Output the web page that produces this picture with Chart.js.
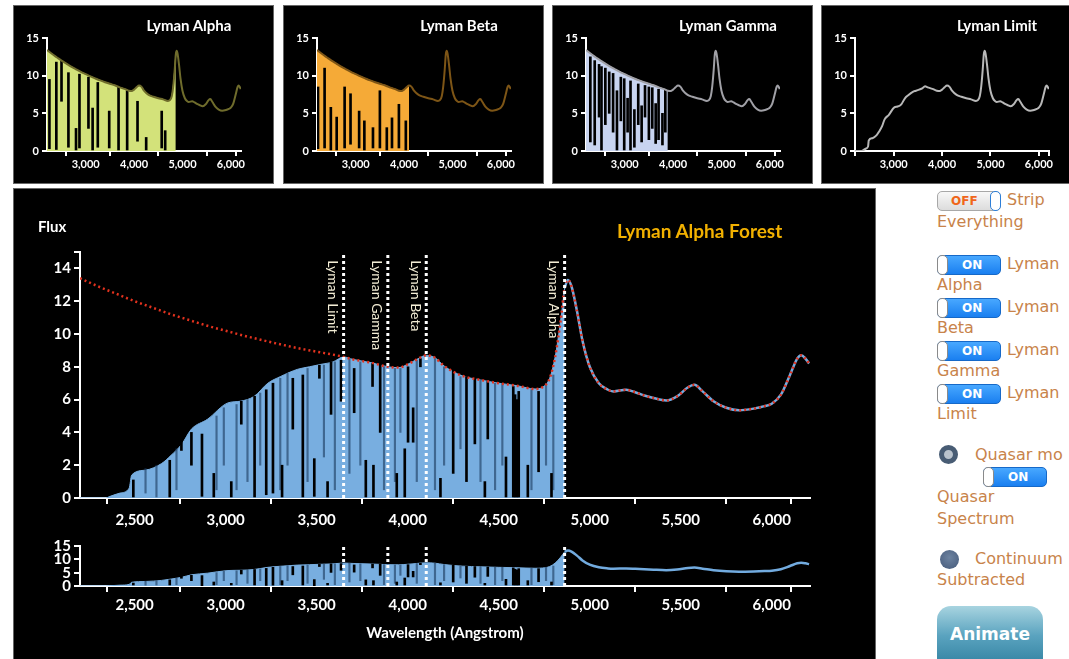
<!DOCTYPE html>
<html>
<head>
<meta charset="utf-8">
<title>Lyman Alpha Forest</title>
<script src="https://cdn.jsdelivr.net/npm/chart.js@4.4.1/dist/chart.umd.min.js"></script>
<style>
  body { margin: 0; width: 1069px; height: 659px; overflow: hidden; position: relative; background: #fff; font-family: Lato, sans-serif; }
  .panel { position: absolute; background: #000; outline: 1px solid #666; overflow: hidden; }
  .panel canvas { position: absolute; left: 0; }
  .ptitle { position: absolute; top: 10px; left: 100px; width: 150px; text-align: center; color: #fff; font: bold 15px Lato, sans-serif; }
  .ctl { position: absolute; font: 16px "DejaVu Sans", sans-serif; color: #c8834a; line-height: 20px; white-space: nowrap; }
  .sw { position: absolute; width: 62px; height: 18px; border-radius: 5px; font: bold 12px "DejaVu Sans", sans-serif; line-height: 18px; }
  .sw.on { background: linear-gradient(#48a8ff, #1a7ff0); border: 1px solid #1669c8; color: #fff; }
  .sw.off { background: linear-gradient(#f8f8f8, #dcdcdc); border: 1px solid #a8a8a8; color: #f0661a; }
  .sw .knob { position: absolute; top: -1px; width: 9px; height: 18px; background: #fff; border-radius: 5px; }
  .sw.on .knob { left: -1px; border: 1px solid #8a8a8a; }
  .sw.off .knob { right: -1px; border: 1px solid #2d7fd8; }
  .sw b { position: absolute; top: 0; }
  .sw.on b { left: 24px; }
  .sw.off b { left: 13px; }
  .radio { position: absolute; width: 19px; height: 19px; border-radius: 50%; box-sizing: border-box; }
  #animate { position: absolute; left: 937px; top: 606px; width: 106px; height: 66px; border-radius: 14px;
    background: linear-gradient(#a8d4e0, #5aa3bf 45%, #2a7b9b); color: #fff; font: bold 17px "DejaVu Sans", sans-serif;
    text-align: center; line-height: 56px; }
</style>
</head>
<body>

<div class="panel" style="left:14px; top:6px; width:259px; height:177px;">
  <canvas id="pAlpha" width="259" height="177"></canvas>
  <div class="ptitle">Lyman Alpha</div>
</div>
<div class="panel" style="left:284px; top:6px; width:259px; height:177px;">
  <canvas id="pBeta" width="259" height="177"></canvas>
  <div class="ptitle">Lyman Beta</div>
</div>
<div class="panel" style="left:553px; top:6px; width:259px; height:177px;">
  <canvas id="pGamma" width="259" height="177"></canvas>
  <div class="ptitle">Lyman Gamma</div>
</div>
<div class="panel" style="left:822px; top:6px; width:259px; height:177px;">
  <canvas id="pLimit" width="259" height="177"></canvas>
  <div class="ptitle">Lyman Limit</div>
</div>

<div class="panel" style="left:14px; top:189px; width:861px; height:470px;">
  <canvas id="mainChart" width="861" height="345" style="top:0"></canvas>
  <canvas id="subChart" width="861" height="125" style="top:345px"></canvas>
  <div style="position:absolute; left:24px; top:28px; color:#fff; font:bold 15px Lato, sans-serif;">Flux</div>
  <div style="position:absolute; left:603px; top:30px; color:#f2b100; font:bold 19px Lato, sans-serif;">Lyman Alpha Forest</div>
</div>

<!-- controls -->
<div class="sw off" style="left:937px; top:191px;"><b>OFF</b><span class="knob"></span></div>
<div class="ctl" style="left:1007px; top:190px;">Strip</div>
<div class="ctl" style="left:937px; top:212px;">Everything</div>

<div class="sw on" style="left:937px; top:255px;"><span class="knob"></span><b>ON</b></div>
<div class="ctl" style="left:1007px; top:254px;">Lyman</div>
<div class="ctl" style="left:937px; top:275px;">Alpha</div>
<div class="sw on" style="left:937px; top:298px;"><span class="knob"></span><b>ON</b></div>
<div class="ctl" style="left:1007px; top:297px;">Lyman</div>
<div class="ctl" style="left:937px; top:318px;">Beta</div>
<div class="sw on" style="left:937px; top:341px;"><span class="knob"></span><b>ON</b></div>
<div class="ctl" style="left:1007px; top:340px;">Lyman</div>
<div class="ctl" style="left:937px; top:361px;">Gamma</div>
<div class="sw on" style="left:937px; top:384px;"><span class="knob"></span><b>ON</b></div>
<div class="ctl" style="left:1007px; top:383px;">Lyman</div>
<div class="ctl" style="left:937px; top:404px;">Limit</div>

<div class="radio" style="left:939px; top:445px; border:5px solid #485c74; background:#b9c2cc;"></div>
<div class="ctl" style="left:975px; top:445px;">Quasar mo</div>
<div class="sw on" style="left:983px; top:467px;"><span class="knob"></span><b>ON</b></div>
<div class="ctl" style="left:937px; top:487px;">Quasar</div>
<div class="ctl" style="left:937px; top:509px;">Spectrum</div>

<div class="radio" style="left:940px; top:550px; background:radial-gradient(circle at 50% 40%, #6d83a0, #45597a);"></div>
<div class="ctl" style="left:975px; top:549px;">Continuum</div>
<div class="ctl" style="left:937px; top:570px;">Subtracted</div>

<div id="animate">Animate</div>

<script>
// quasar continuum, wavelength in Angstrom, flux
const contWave = [2200, 2300, 2400, 2500, 2600, 2700, 2800, 2900, 3000, 3100,
                  3200, 3300, 3400, 3500, 3600, 3648, 3700, 3800, 3891, 3950,
                  4000, 4050, 4102, 4150, 4200, 4300, 4400, 4500, 4600, 4700,
                  4740, 4780, 4810, 4840, 4862, 4880, 4900, 4930, 4960, 5000,
                  5050, 5100, 5130, 5200, 5250, 5300, 5350, 5420, 5480, 5540,
                  5575, 5620, 5680, 5750, 5820, 5900, 5960, 6000, 6050, 6100,
                  6140, 6162, 6185, 6205];
const contFlux = [13.4, 12.9, 12.45, 12.0, 11.6, 11.2, 10.85, 10.5, 10.2, 9.9,
                  9.63, 9.37, 9.13, 8.92, 8.72, 8.6, 8.45, 8.25, 8.0, 7.95,
                  8.15, 8.45, 8.7, 8.55, 8.05, 7.45, 7.2, 7.0, 6.85, 6.65,
                  6.75, 7.3, 8.6, 10.8, 12.8, 13.3, 12.9, 11.4, 9.6, 8.0,
                  7.0, 6.6, 6.5, 6.6, 6.45, 6.25, 6.1, 5.95, 6.2, 6.75,
                  6.9, 6.5, 5.9, 5.5, 5.35, 5.45, 5.6, 5.75, 6.3, 7.5,
                  8.5, 8.7, 8.5, 8.2];

// flux below the Lyman limit (continuum eaten by the limit system)
const llWave = [2200, 2340, 2365, 2420, 2470, 2484, 2560, 2648, 2700, 2760, 2812,
                2900, 3013, 3080, 3157, 3232, 3300, 3396, 3460, 3524, 3590, 3648];
const llFlux = [0, 0, 0.1, 0.3, 0.6, 1.4, 1.7, 2.1, 2.6, 3.3, 4.2,
                4.8, 5.8, 5.9, 6.2, 7.0, 7.4, 7.85, 8.0, 8.15, 8.3, 8.6];

const lymanWave = [3648, 3891, 4102, 4862];
const lymanName = ['Lyman Limit', 'Lyman Gamma', 'Lyman Beta', 'Lyman Alpha'];

const xTicks = [2500, 3000, 3500, 4000, 4500, 5000, 5500, 6000];
const xTicksSmall = [3000, 4000, 5000, 6000];
const yTicksMain = [0, 2, 4, 6, 8, 10, 12, 14];
const yTicksSub = [0, 5, 10, 15];

// absorption lines in the big plot: wavelength, bottom, top of the dark strip
const absWave = [2493, 2693, 2757, 2812, 2870, 2935, 3031, 3086, 3159, 3223, 3260,
                 3310, 3369, 3424, 3487, 3515, 3560, 3579, 3634, 3706, 3770, 3807,
                 3812, 3849, 3940, 3984, 4002, 4030, 4070, 4180, 4250, 4323, 4369, 4424,
                 4440, 4540, 4580, 4590, 4600, 4610, 4660, 4719, 4790];
const absLo = [0, 0, 2.9, 2.0, 0.1, 0, 0, 4.5, 0, 0.2, 0.3,
               0, 4.2, 0, 0.1, 7.3, 0, 5.1, 5.9, 5.2, 0, 6.8,
               0, 4.0, 0, 0, 3.4, 3.4, 8.0, 0, 1.5, 1.0, 3.3, 0,
               3.6, 0, 0, 0, 0, 0, 0, 1.6, 0];
const absHi = [1.1, 2.3, 3.8, 4.0, 3.9, 1.5, 1.0, 5.9, 6.2, 6.6, 7.0,
               2.0, 7.3, 7.5, 2.4, 8.1, 1.0, 8.3, 8.4, 7.9, 2.3, 8.2,
               2.0, 8.2, 1.5, 3.0, 8.0, 5.5, 8.5, 1.2, 7.8, 7.4, 7.3, 1.0,
               7.1, 2.5, 6.8, 6.3, 6.0, 6.5, 2.0, 6.5, 1.5];
// weaker lines, drawn as darker blue streaks
const faintWave = [2560, 2620, 2730, 2950, 2990, 3060, 3120, 3190, 3300, 3340,
                   3450, 3540, 3600, 3680, 3740, 3870, 3930, 3960, 4050, 4150,
                   4200, 4290, 4400, 4480, 4520, 4680, 4760, 4800];
const faintLo = [0.3, 0, 0.5, 0.5, 2.0, 0.5, 1.0, 2.0, 0.5, 2.0,
                 1.0, 2.5, 0.5, 1.5, 2.0, 0.5, 1.0, 4.0, 1.0, 0.5,
                 2.0, 3.0, 1.0, 0.5, 2.0, 0.5, 2.0, 0.5];
const faintHi = [1.8, 2.0, 3.0, 5.0, 5.5, 5.7, 6.0, 6.4, 7.3, 7.6,
                 7.9, 8.1, 8.3, 8.5, 8.3, 8.0, 7.9, 7.9, 8.4, 8.5,
                 8.0, 7.4, 7.2, 7.0, 7.0, 6.6, 7.0, 7.5];

// strips in the small panels
const alphaAbsWave = [2250, 2393, 2500, 2643, 2800, 2871, 3057, 3143, 3250, 3486, 3679, 3857, 4071, 4250, 4571, 4643];
const alphaAbsLo = [0.3, 0.2, 6.6, 0.5, 0, 0.4, 3.0, 0, 0.5, 0.4, 0, 0, 1.3, 0, 0.4, 0];
const alphaAbsHi = [9.5, 11.8, 12.0, 10.4, 3.0, 10.2, 9.8, 5.7, 9.1, 5.3, 8.8, 8.0, 6.6, 1.8, 5.3, 2.7];
const betaAbsWave = [2221, 2357, 2486, 2607, 2771, 2893, 3071, 3179, 3357, 3500, 3643, 3750, 3893, 4036];
const betaAbsLo = [0.3, 0.4, 0, 0, 0.4, 0.9, 0.4, 0, 0.4, 0.4, 0, 0.4, 0.4, 0];
const betaAbsHi = [8.5, 11.0, 5.8, 4.5, 8.5, 7.6, 5.3, 4.0, 3.1, 8.0, 3.1, 4.4, 6.2, 4.0];
const gammaAbsWave = [2290, 2380, 2470, 2520, 2600, 2680, 2760, 2840, 2920, 2990, 3060,
                      3120, 3200, 3280, 3350, 3420, 3500, 3570, 3640, 3700, 3780, 3840];
const gammaAbsLo = [1.2, 0.8, 4.5, 0, 3.5, 5.0, 2.5, 0, 4.0, 0, 2.5,
                    0, 0.5, 3.5, 1.2, 4.5, 1.5, 3.0, 1.0, 1.5, 0.8, 2.5];
const gammaAbsHi = [12.5, 12.0, 11.5, 11.2, 11.0, 10.5, 10.3, 8.0, 9.8, 9.6, 7.0,
                    9.3, 5.5, 8.9, 6.0, 8.7, 8.5, 8.4, 6.3, 8.2, 5.0, 8.1];

function pts(w, f, from, to) {
    const out = [];
    w.forEach((x, i) => { if (x >= from && x <= to) out.push({x: x, y: f[i]}); });
    return out;
}
function strips(w, lo, hi) {
    return w.map((x, i) => ({x: x, y: [lo[i], hi[i]]}));
}

Chart.defaults.font.family = 'Lato';
Chart.defaults.animation = false;

function xAxis(ticks, size, tickLen, pad, height, title) {
    return {
        type: 'linear', min: 2200, max: 6210, offset: false,
        afterBuildTicks: s => { s.ticks = [2200].concat(ticks, [6210]).map(v => ({value: v})); },
        afterFit: s => { s.height = height; },
        border: {color: '#fff', width: 2},
        grid: {drawOnChartArea: false, color: '#fff', lineWidth: 2, tickLength: tickLen},
        ticks: {autoSkip: false, maxRotation: 0, color: '#fff', padding: pad, font: {size: size, weight: 'bold'},
            callback: v => ticks.includes(v) ? v.toLocaleString('en-US') : ''},
        title: title ? {display: true, text: title, color: '#fff', font: {size: 15, weight: 'bold'}, padding: {top: 0, bottom: 17}} : {display: false}
    };
}
function yAxis(ticks, max, size, tickLen, width) {
    return {
        min: 0, max: max,
        afterBuildTicks: s => { s.ticks = ticks.concat(ticks.includes(max) ? [] : [max]).map(v => ({value: v})); },
        afterFit: s => { s.width = width; },
        border: {color: '#fff', width: 2},
        grid: {drawOnChartArea: false, color: '#fff', lineWidth: 2, tickLength: tickLen},
        ticks: {autoSkip: false, color: '#fff', padding: 3, font: {size: size, weight: 'bold'},
            callback: v => ticks.includes(v) ? v : ''}
    };
}
const quiet = {legend: {display: false}, tooltip: {enabled: false}};

function lymanLines(top) {
    return lymanWave.map(w => ({
        type: 'line', data: [{x: w, y: 0}, {x: w, y: top}], borderColor: '#fff', borderWidth: 3,
        borderDash: [3, 3], pointRadius: 0, order: 0
    }));
}
function forestSets() {
    return [
        {type: 'line', data: pts(contWave, contFlux, 4862, 6210), borderColor: '#72abdf', borderWidth: 2.5,
            pointRadius: 0, cubicInterpolationMode: 'monotone', order: 2},
        {type: 'bar', data: strips(absWave, absLo, absHi), backgroundColor: '#000', barThickness: 2, grouped: false, order: 3},
        {type: 'bar', data: strips(faintWave, faintLo, faintHi), backgroundColor: 'rgba(25,55,90,0.6)', barThickness: 1.5, grouped: false, order: 4},
        {type: 'line', data: pts(llWave, llFlux, 2200, 3647).concat(pts(contWave, contFlux, 3648, 4862)),
            fill: 'origin', backgroundColor: '#78aee0', borderColor: '#78aee0', borderWidth: 1,
            pointRadius: 0, cubicInterpolationMode: 'monotone', order: 5}
    ];
}

// rotated names next to the dotted Lyman lines
const lymanLabels = {
    id: 'lymanLabels',
    afterDatasetsDraw(chart) {
        const {ctx, scales} = chart;
        ctx.save();
        ctx.font = '14px Lato';
        ctx.fillStyle = '#f4eed6';
        ctx.textBaseline = 'top';
        lymanName.forEach((name, i) => {
            ctx.save();
            ctx.translate(scales.x.getPixelForValue(lymanWave[i]) - 4, scales.y.getPixelForValue(14.5));
            ctx.rotate(Math.PI / 2);
            ctx.fillText(name, 0, 0);
            ctx.restore();
        });
        ctx.restore();
    }
};

function mainChart() {
    const sets = lymanLines(14.9).concat([
        {type: 'line', data: pts(contWave, contFlux, 2200, 6210), borderColor: '#e3321e', borderWidth: 2.5,
            borderDash: [2, 3], pointRadius: 0, cubicInterpolationMode: 'monotone', order: 1}
    ], forestSets());
    new Chart(document.getElementById('mainChart'), {
        type: 'line',
        data: {datasets: sets},
        options: {
            responsive: false, devicePixelRatio: 1,
            layout: {padding: {left: 10, top: 63, right: 65, bottom: 0}},
            scales: {x: xAxis(xTicks, 15, 6, 7, 36), y: yAxis(yTicksMain, 15, 15, 6, 56)},
            plugins: quiet
        },
        plugins: [lymanLabels]
    });
}

function subChart() {
    new Chart(document.getElementById('subChart'), {
        type: 'line',
        data: {datasets: lymanLines(15).concat(forestSets())},
        options: {
            responsive: false, devicePixelRatio: 1,
            layout: {padding: {left: 10, top: 7, right: 65, bottom: 0}},
            scales: {x: xAxis(xTicks, 15, 6, 4, 73, 'Wavelength (Angstrom)'), y: yAxis(yTicksSub, 15, 15, 6, 56)},
            plugins: quiet
        }
    });
}

function smallChart(id, cutoff, fillColor, lineColor, sw, slo, shi) {
    let sets;
    if (cutoff) {
        sets = [
            {type: 'line', data: pts(contWave, contFlux, 2200, 6210), borderColor: lineColor, borderWidth: 2,
                pointRadius: 0, cubicInterpolationMode: 'monotone', order: 1},
            {type: 'bar', data: strips(sw, slo, shi), backgroundColor: '#000', barThickness: 2, grouped: false, order: 2},
            {type: 'line', data: pts(contWave, contFlux, 2200, cutoff), fill: 'origin', backgroundColor: fillColor,
                borderColor: fillColor, borderWidth: 1, pointRadius: 0, cubicInterpolationMode: 'monotone', order: 3}
        ];
    } else {
        sets = [
            {type: 'line', data: pts(llWave, llFlux, 2200, 3647).concat(pts(contWave, contFlux, 3648, 6210)),
                borderColor: lineColor, borderWidth: 2, pointRadius: 0, cubicInterpolationMode: 'monotone'}
        ];
    }
    new Chart(document.getElementById(id), {
        type: 'line',
        data: {datasets: sets},
        options: {
            responsive: false, devicePixelRatio: 1,
            layout: {padding: {left: 6, top: 32, right: 32, bottom: 0}},
            scales: {x: xAxis(xTicksSmall, 11, 5, 2, 32), y: yAxis(yTicksSub, 15, 11, 5, 27)},
            plugins: quiet
        }
    });
}

document.addEventListener('DOMContentLoaded', () => {
    smallChart('pAlpha', 4862, '#d3e27a', '#6f6c2c', alphaAbsWave, alphaAbsLo, alphaAbsHi);
    smallChart('pBeta', 4102, '#f5aa37', '#7d5516', betaAbsWave, betaAbsLo, betaAbsHi);
    smallChart('pGamma', 3891, '#c8d4f0', '#a0a0a6', gammaAbsWave, gammaAbsLo, gammaAbsHi);
    smallChart('pLimit', 0, null, '#b8b8b8');
    mainChart();
    subChart();
});
</script>
</body>
</html>
